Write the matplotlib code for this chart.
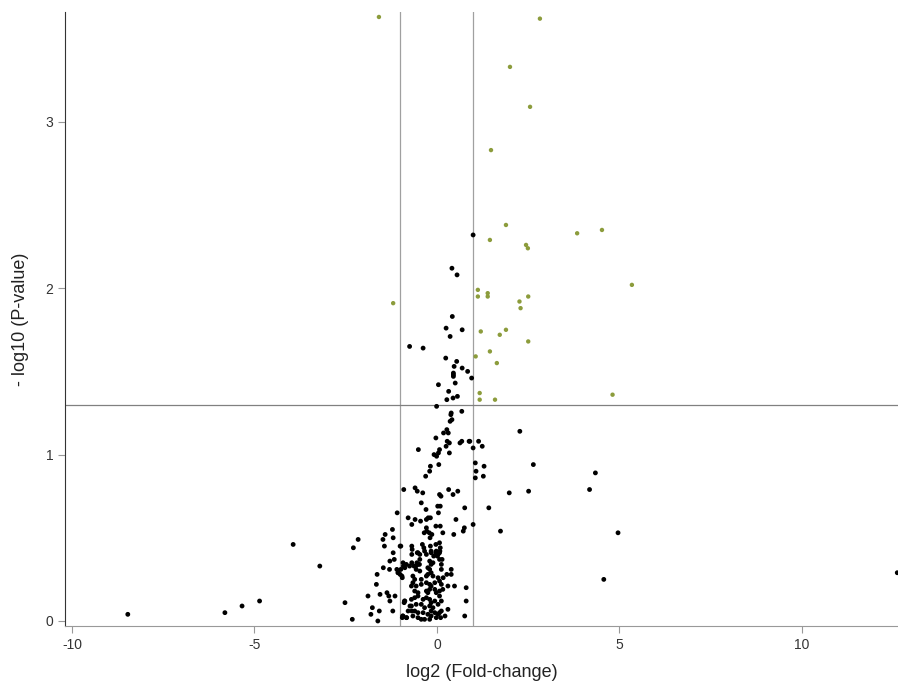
import numpy as np
import matplotlib.pyplot as plt

plt.rcParams['font.family'] = ['Liberation Sans', 'DejaVu Sans']
plt.rcParams['axes.unicode_minus'] = False

# significant points (|log2 FC| > 1 and p < 0.05)
sig_fc = [-1.59, 2.82, 2.00, 2.55, 1.48, -1.20, 1.89, 1.45, 2.44, 2.49, 3.84, 4.52,
          5.34, 1.12, 1.12, 1.39, 1.39, 2.50, 2.26, 2.29, 1.20, 1.89, 1.72, 2.50,
          1.06, 1.45, 1.64, 4.81, 1.17, 1.17, 1.59]
sig_p = [3.63, 3.62, 3.33, 3.09, 2.83, 1.91, 2.38, 2.29, 2.26, 2.24, 2.33, 2.35,
         2.02, 1.99, 1.95, 1.97, 1.95, 1.95, 1.92, 1.88, 1.74, 1.75, 1.72, 1.68,
         1.59, 1.62, 1.55, 1.36, 1.37, 1.33, 1.33]

# non-significant points
ns_fc = [
    # upper tail of the cloud
    0.99, 0.41, 0.55, 0.42, 0.25, 0.69, 0.36, -0.75, -0.38, 0.24, 0.54, 0.47, 0.69,
    0.84, 0.45, 0.45, 0.45, 0.95, 0.50, 0.04, 0.32, 0.27, 0.44, 0.56, -0.01,
    0.39, 0.38, 0.68, 0.41, 0.36, 0.27, 0.31, 0.18, -0.03, 0.28, 0.34, 0.25, 0.63,
    0.68, 0.88, -0.51, 0.07, 0.04, -0.08, -0.01, 0.34, -0.18, -0.20, 0.05, -0.31,
    -0.91, -0.60, -0.54, -0.39, 0.07, 0.11, 0.32, 0.44, 0.57, -0.43, -0.30, 0.02,
    0.09, 0.76, 0.04, -0.79, -0.69, -0.60, -0.45, -0.29, -0.24, -0.18, -0.03, 0.09,
    0.52, -0.29, -0.28, -0.21, -0.35, -0.19, -0.14, 0.16, 0.46, 0.72, 0.75, -0.99,
    -0.69, -0.68, -0.40, -0.36, -0.18, -0.03, 0.07, 0.09, -0.54, -0.47, -0.29, -0.16,
    -0.03, 0.08, 0.01, -0.09, 0.14, 0.27, 0.17, 0.22, 0.10,
    # right of the +1 line
    2.27, 1.14, 0.90, 0.99, 1.24, 1.05, 2.64, 1.29, 1.07, 4.34, 1.05, 1.27, 1.98,
    2.51, 4.18, 1.42, 0.99, 1.74, 4.96, 4.57, 12.61,
    # left tail
    -8.47, -5.81, -5.34, -4.86, -3.94, -3.21, -2.52, -2.32, -2.29, -2.16, -1.89,
    -1.81, -1.77, -1.62, -1.58, -1.66, -1.64, -1.56, -1.47, -1.48, -1.42, -1.22,
    -1.20, -1.44, -1.01, -1.20, -1.29, -1.17, -1.30, -1.10, -1.06, -1.01, -0.95,
    -0.92, -1.37, -1.32, -1.29, -1.15, -1.21, -0.90, -0.95, -1.09,
    # dense core
    -0.69, -0.52, -0.34, -0.16, -0.02, 0.03, 0.07, -0.93, -0.84, -0.75, -0.63,
    -0.52, -0.47, -0.20, -0.16, -0.11, 0.07, 0.12, -0.99, -1.07, -0.57, -0.47,
    -0.25, -0.20, -0.16, 0.12, 0.39, 0.39, -0.96, -0.66, -0.61, -0.43, -0.29,
    -0.25, -0.11, 0.03, 0.07, -0.66, -0.70, -0.57, -0.43, -0.29, -0.20, -0.16,
    -0.06, 0.12, 0.30, 0.48, 0.80, -0.61, -0.52, -0.29, -0.25, -0.20, -0.06,
    -0.02, 0.07, 0.16, -0.89, -0.70, -0.61, -0.52, -0.38, -0.29, -0.20, -0.16,
    -0.06, 0.07, 0.12, 0.80, -0.70, -0.57, -0.43, -0.34, -0.20, -0.11, 0.03,
    0.30, -0.79, -0.61, -0.52, -0.38, -0.25, -0.16, -0.06, 0.07, 0.12, -0.93,
    -0.84, -0.66, -0.52, -0.43, -0.34, -0.20, -0.16, -0.02, 0.03, 0.76,
    -0.94, -0.83, -0.88, -0.74, -0.69, -0.88, -0.69, -0.58, -0.55, -0.48,
]
ns_p = [
    2.32, 2.12, 2.08, 1.83, 1.76, 1.75, 1.71, 1.65, 1.64, 1.58, 1.56, 1.53, 1.52,
    1.50, 1.49, 1.48, 1.47, 1.46, 1.43, 1.42, 1.38, 1.33, 1.34, 1.35, 1.29,
    1.25, 1.24, 1.26, 1.21, 1.20, 1.15, 1.13, 1.13, 1.10, 1.08, 1.07, 1.05, 1.07,
    1.08, 1.08, 1.03, 1.03, 1.01, 1.00, 0.99, 1.01, 0.93, 0.90, 0.94, 0.87,
    0.79, 0.80, 0.78, 0.77, 0.76, 0.75, 0.79, 0.76, 0.78, 0.71, 0.67, 0.69,
    0.69, 0.68, 0.65, 0.62, 0.58, 0.61, 0.60, 0.61, 0.62, 0.62, 0.57, 0.57,
    0.61, 0.56, 0.54, 0.53, 0.53, 0.50, 0.52, 0.53, 0.52, 0.54, 0.56, 0.45,
    0.45, 0.43, 0.46, 0.44, 0.45, 0.46, 0.47, 0.44, 0.41, 0.40, 0.40, 0.42,
    0.41, 0.42, 0.39, 0.39, 0.37, 0.28, 0.26, 0.03, 0.02,
    1.14, 1.08, 1.08, 1.04, 1.05, 0.95, 0.94, 0.93, 0.90, 0.89, 0.86, 0.87, 0.77,
    0.78, 0.79, 0.68, 0.58, 0.54, 0.53, 0.25, 0.29,
    0.04, 0.05, 0.09, 0.12, 0.46, 0.33, 0.11, 0.01, 0.44, 0.49, 0.15,
    0.04, 0.08, 0.00, 0.06, 0.22, 0.28, 0.16, 0.32, 0.49, 0.52, 0.55,
    0.50, 0.45, 0.45, 0.41, 0.36, 0.37, 0.31, 0.31, 0.29, 0.28, 0.26,
    0.33, 0.17, 0.15, 0.12, 0.15, 0.06, 0.11, 0.02, 0.65,
    0.40, 0.41, 0.42, 0.41, 0.42, 0.40, 0.41, 0.35, 0.34, 0.33, 0.33,
    0.34, 0.37, 0.36, 0.34, 0.35, 0.37, 0.34, 0.31, 0.29, 0.31, 0.30,
    0.32, 0.31, 0.29, 0.31, 0.31, 0.28, 0.27, 0.27, 0.25, 0.25, 0.27,
    0.28, 0.27, 0.26, 0.24, 0.23, 0.21, 0.21, 0.22, 0.23, 0.22, 0.21,
    0.23, 0.22, 0.21, 0.21, 0.20, 0.18, 0.17, 0.18, 0.17, 0.19, 0.19,
    0.17, 0.18, 0.19, 0.12, 0.13, 0.14, 0.15, 0.13, 0.14, 0.13, 0.11,
    0.12, 0.15, 0.12, 0.12, 0.09, 0.10, 0.10, 0.08, 0.09, 0.08, 0.10,
    0.07, 0.06, 0.06, 0.05, 0.05, 0.04, 0.06, 0.05, 0.05, 0.06, 0.03,
    0.02, 0.03, 0.02, 0.01, 0.01, 0.01, 0.03, 0.02, 0.04, 0.03,
    0.03, 0.02, 0.12, 0.09, 0.06, 0.32, 0.35, 0.33, 0.35, 0.34,
]

fc_cut = 1
p_cut = 1.3

fig = plt.figure(figsize=(8.98, 6.81), dpi=100)
ax = fig.add_axes([0.0724, 0.0808, 0.9276, 0.9016])

ax.axvline(-fc_cut, color='#a0a0a0', lw=0.9, zorder=1)
ax.axvline(fc_cut, color='#a0a0a0', lw=0.9, zorder=1)
ax.axhline(p_cut, color='#808080', lw=0.9, zorder=1)

ax.scatter(ns_fc, ns_p, s=12, c='black', edgecolors='none', zorder=2)
ax.scatter(sig_fc, sig_p, s=10, c='#8c9c3c', edgecolors='none', zorder=3)

ax.set_xlim(-10.19, 12.63)
ax.set_ylim(-0.03, 3.66)
ax.set_xticks([-10, -5, 0, 5, 10])
ax.set_yticks([0, 1, 2, 3])

for s in ['top', 'right']:
    ax.spines[s].set_visible(False)
ax.spines['left'].set_color('#333333')
ax.spines['bottom'].set_color('#999999')
ax.tick_params(colors='#999999', labelcolor='#333333', labelsize=10, length=5)

ax.set_xlabel('log2 (Fold-change)', fontsize=13, labelpad=9, color='#222222')
ax.set_ylabel('- log10 (P-value)', fontsize=13, labelpad=12, color='#222222')

fig.savefig('out.png', dpi=100)
